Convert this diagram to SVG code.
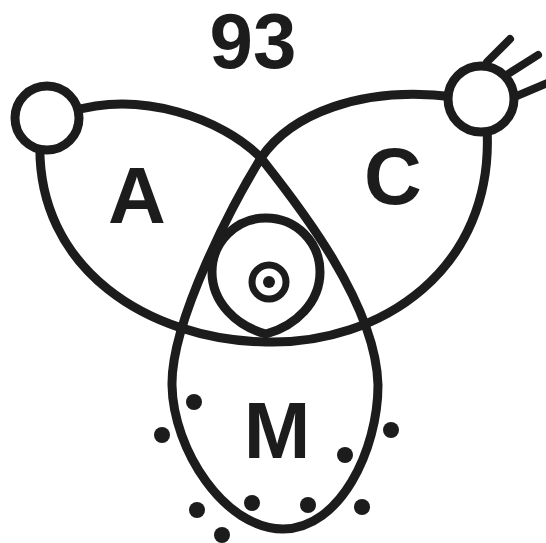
<svg xmlns="http://www.w3.org/2000/svg" width="546" height="543" viewBox="0 0 546 543">
<style>
.ln{fill:none;stroke:#1c1c1c;stroke-width:9;stroke-linecap:round;stroke-linejoin:round}
.pr{fill:none;stroke:#1c1c1c;stroke-width:8;stroke-linecap:round}
.node{fill:#fff;stroke:#1c1c1c;stroke-width:9}
.lbl{font-family:"Liberation Sans",Arial,sans-serif;font-weight:bold;fill:#1c1c1c;text-anchor:middle}
.dot{fill:#1c1c1c}
</style>
<rect width="546" height="543" fill="#fff"/>
<g id="connectors">
  <path class="ln" d="M 40,140 C 35,270 150,340 266,342 C 380,345 495,270 487,128"/>
  <path class="ln" d="M 70,112 C 140,90 222,118 261,158 C 290,195 376,300 378,385 C 378,450 340,529 283,529 C 225,529 173,450 172,385 C 171,320 235,200 261,158 C 290,115 360,85 455,97"/>
</g>
<g id="inner">
  <path class="ln" d="M 266,334 C 236,326 212,302 212,272 C 212,242 236,218 266,218 C 296,218 320,242 320,272 C 320,302 296,326 266,334 Z"/>
  <circle cx="269" cy="282" r="17" fill="none" stroke="#1c1c1c" stroke-width="7"/>
  <circle class="dot" cx="269" cy="282" r="6"/>
</g>
<g id="node-a-circle">
  <circle class="node" cx="47" cy="118" r="32"/>
</g>
<g id="node-c-circle">
  <line class="pr" x1="487" y1="62" x2="510" y2="39"/>
  <line class="pr" x1="505" y1="76" x2="538" y2="55"/>
  <line class="pr" x1="512" y1="98" x2="550" y2="82"/>
  <circle class="node" cx="481" cy="99" r="33"/>
</g>
<g id="title"><text class="lbl" x="253" y="68" font-size="78">93</text></g>
<g id="node-a"><text class="lbl" x="137" y="223" font-size="80">A</text></g>
<g id="node-c"><text class="lbl" x="393" y="204" font-size="80">C</text></g>
<g id="node-m"><text class="lbl" x="277" y="458" font-size="80">M</text></g>
<g id="dots">
  <circle class="dot" cx="194" cy="402" r="8"/>
  <circle class="dot" cx="162" cy="435" r="8"/>
  <circle class="dot" cx="197" cy="510" r="8"/>
  <circle class="dot" cx="222" cy="535" r="8"/>
  <circle class="dot" cx="252" cy="503" r="8"/>
  <circle class="dot" cx="308" cy="505" r="8"/>
  <circle class="dot" cx="362" cy="507" r="8"/>
  <circle class="dot" cx="345" cy="455" r="8"/>
  <circle class="dot" cx="391" cy="430" r="8"/>
</g>
</svg>
